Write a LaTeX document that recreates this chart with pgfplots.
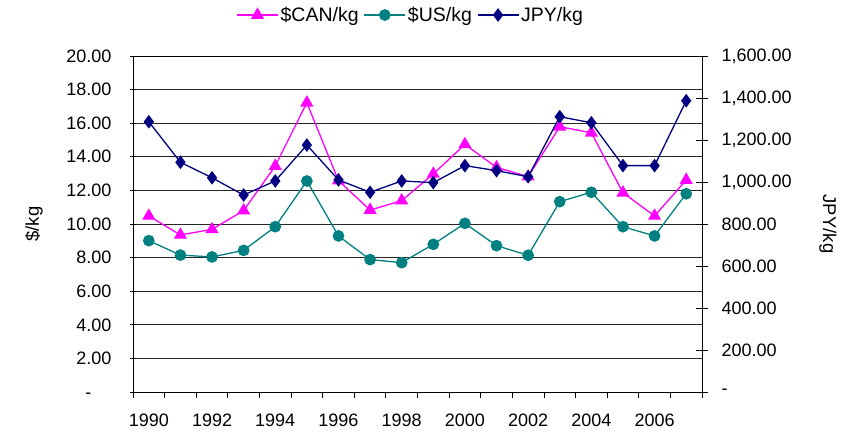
\documentclass[border=0pt]{standalone}
\usepackage{fontspec}
\setmainfont{Liberation Sans}
\usepackage{pgfplots}
\pgfplotsset{compat=1.18}
\definecolor{can}{HTML}{FF00FF}
\definecolor{us}{HTML}{008080}
\definecolor{jpy}{HTML}{000080}
\begin{document}
\begin{tikzpicture}
\useasboundingbox (0,0) rectangle (850pt,432pt);
\begin{axis}[
  at={(133pt,40pt)}, anchor=south west,
  scale only axis, width=569pt, height=336pt,
  xmin=1989.5, xmax=2007.5, ymin=0, ymax=20,
  font=\fontsize{18}{21}\selectfont,
  axis line style={black, line width=0.8pt},
  xtick={1989.5,1990.5,1991.5,1992.5,1993.5,1994.5,1995.5,1996.5,1997.5,1998.5,1999.5,2000.5,2001.5,2002.5,2003.5,2004.5,2005.5,2006.5,2007.5},
  xticklabels={1990,,1992,,1994,,1996,,1998,,2000,,2002,,2004,,2006,,},
  xticklabel style={xshift=15.8pt, yshift=-12pt},
  ytick={0,2,...,20},
  yticklabels={-\phantom{00},2.00,4.00,6.00,8.00,10.00,12.00,14.00,16.00,18.00,20.00},
  yticklabel style={anchor=east, xshift=-12pt},
  xtick pos=bottom, ytick pos=left,
  tick align=outside, major tick length=6pt,
  tick style={black, line width=0.8pt},
  y tick style={xshift=3pt},
  ymajorgrids, major grid style={black!85, line width=0.8pt},
  ylabel={\$/kg},
  ylabel style={at={(axis description cs:-0.174,0.5)}, anchor=center, font=\fontsize{18.5}{21}\selectfont},
  legend columns=3,
  legend style={at={(0.488,1.122)}, anchor=center, draw=none, fill=none,
    font=\fontsize{19.5}{22}\selectfont,
    /tikz/every even column/.append style={column sep=3pt}},
  legend image code/.code={\draw[mark repeat=2,mark phase=2] plot coordinates {(0pt,0pt)(20.5pt,0pt)(41pt,0pt)};},
]
\addplot[can, line width=1.3pt, mark=triangle*, mark size=6.3pt, mark options={solid}] coordinates {
(1990,10.48)(1991,9.35)(1992,9.68)(1993,10.80)(1994,13.45)(1995,17.22)(1996,12.58)(1997,10.83)(1998,11.39)
(1999,12.98)(2000,14.74)(2001,13.37)(2002,12.82)(2003,15.79)(2004,15.43)(2005,11.86)(2006,10.48)(2007,12.62)};
\addlegendentry{\$CAN/kg}
\addplot[us, line width=1.3pt, mark=*, mark size=5.2pt] coordinates {
(1990,9.01)(1991,8.15)(1992,8.04)(1993,8.43)(1994,9.84)(1995,12.56)(1996,9.29)(1997,7.88)(1998,7.70)
(1999,8.79)(2000,10.04)(2001,8.71)(2002,8.14)(2003,11.33)(2004,11.89)(2005,9.84)(2006,9.29)(2007,11.80)};
\addlegendentry{\$US/kg}
\addlegendimage{jpy, line width=1.3pt, mark=diamond*, mark size=5.8pt}
\addlegendentry{JPY/kg}
\end{axis}
\begin{axis}[
  at={(133pt,40pt)}, anchor=south west,
  scale only axis, width=569pt, height=336pt,
  xmin=1989.5, xmax=2007.5, ymin=0, ymax=1600,
  font=\fontsize{18}{21}\selectfont,
  axis x line=none, axis y line*=right,
  y axis line style={black, line width=0.8pt, -},
  ytick={0,200,...,1600},
  yticklabels={-,200.00,400.00,600.00,800.00,{1,000.00},{1,200.00},{1,400.00},{1,600.00}},
  yticklabel style={anchor=west, xshift=10pt},
  tick align=center, major tick length=12pt,
  tick style={black, line width=0.8pt},
  ylabel={JPY/kg},
  ylabel style={at={(axis description cs:1.2214,0.5)}, anchor=center, rotate=180, font=\fontsize{18.5}{21}\selectfont},
]
\addplot[jpy, line width=1.3pt, mark=diamond*, mark size=5.8pt] coordinates {
(1990,1287)(1991,1094)(1992,1020)(1993,938)(1994,1005)(1995,1176)(1996,1010)(1997,951)(1998,1005)
(1999,997)(2000,1078)(2001,1054)(2002,1025)(2003,1311)(2004,1282)(2005,1078)(2006,1078)(2007,1387)};
\end{axis}
\end{tikzpicture}
\end{document}
